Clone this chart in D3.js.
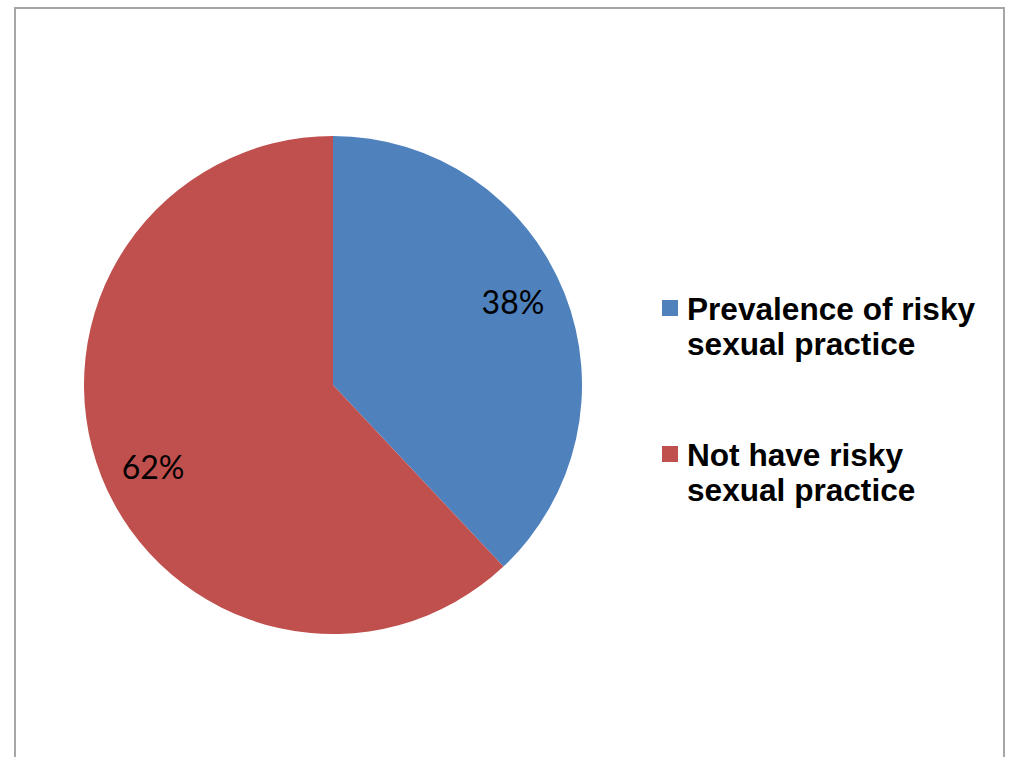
<!DOCTYPE html>
<html><head><meta charset="utf-8">
<script src="https://cdn.jsdelivr.net/npm/d3@7"></script>
<style>body{margin:0;background:#fff;}svg{display:block;}</style>
</head><body>
<svg id="chart" width="1009" height="757"></svg>
<script>
const categories = ["Prevalence of risky sexual practice", "Not have risky sexual practice"];
const legendLines = [["Prevalence of risky", "sexual practice"], ["Not have risky", "sexual practice"]];
const values = [38, 62];
const labels = ["38%", "62%"];
const colors = ["#4F81BD", "#C0504D"];

const svg = d3.select("#chart");
// frame
svg.append("path")
  .attr("d", "M15,770 L15,8 L1004,8 L1004,770")
  .attr("fill", "none").attr("stroke", "#a6a6a6").attr("stroke-width", 2);

const cx = 333, cy = 385, R = 249;
const pie = d3.pie().sort(null).value(d => d)(values);
const arc = d3.arc().innerRadius(0).outerRadius(R);
const g = svg.append("g").attr("transform", `translate(${cx},${cy})`);
g.selectAll("path.slice").data(pie).enter().append("path")
  .attr("class", "slice")
  .attr("d", arc)
  .attr("fill", (d, i) => colors[i]);

const fs = 32, lr = R * 0.795, rot = -3 * Math.PI / 180;
g.selectAll("text.lbl").data(pie).enter().append("text")
  .attr("class", "lbl")
  .attr("x", d => lr * Math.sin((d.startAngle + d.endAngle) / 2 + rot))
  .attr("y", d => -lr * Math.cos((d.startAngle + d.endAngle) / 2 + rot) + fs * 0.36)
  .attr("text-anchor", "middle")
  .attr("font-family", "Lato, 'Open Sans', sans-serif")
  .attr("font-size", fs)
  .attr("fill", "#000")
  .text((d, i) => labels[i]);

// legend
const legendY = [300, 446];
const lg = svg.append("g");
categories.forEach((c, i) => {
  const y0 = legendY[i];
  lg.append("rect").attr("x", 662).attr("y", y0).attr("width", 16).attr("height", 16)
    .attr("fill", colors[i]);
  legendLines[i].forEach((t, j) => {
    lg.append("text")
      .attr("x", 687).attr("y", y0 + 20 + j * 35)
      .attr("font-family", "'Liberation Sans', Arial, sans-serif")
      .attr("font-weight", "bold")
      .attr("font-size", 31.6)
      .attr("fill", "#000")
      .text(t);
  });
});
</script>
</body></html>
